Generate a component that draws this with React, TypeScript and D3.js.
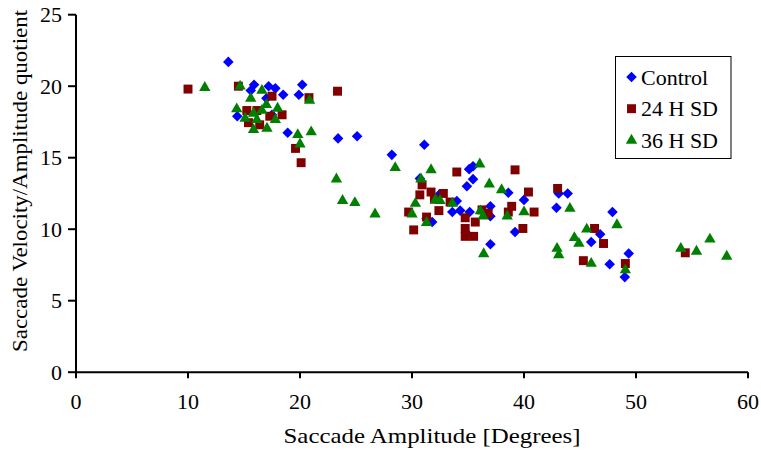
import React, { useEffect, useRef } from 'react';
import * as d3 from 'd3';

// [amplitude, velocity/amplitude] pairs
const control: [number, number][] = [
  [13.6, 21.7], [15.9, 20.1], [15.6, 19.7], [17.2, 20.0], [17.8, 19.85], [18.5, 19.4],
  [20.2, 20.1], [19.9, 19.4], [14.4, 17.9], [17.0, 19.15], [17.5, 18.0], [18.9, 16.75],
  [23.4, 16.35], [25.1, 16.5], [28.2, 15.2], [31.1, 15.9], [35.1, 14.2], [35.45, 14.4],
  [35.45, 13.5], [34.9, 13.0], [30.7, 13.55], [38.6, 12.55], [40.0, 12.05], [34.0, 11.97],
  [33.6, 11.2], [34.3, 11.3], [35.15, 11.2], [37.0, 11.6], [37.0, 10.9], [31.3, 10.75],
  [31.8, 10.5], [39.2, 9.8], [37.0, 8.95], [42.9, 11.5], [43.1, 12.5], [43.9, 12.5],
  [47.9, 11.2], [46.8, 9.65], [46.0, 9.1], [49.35, 8.3], [47.65, 7.55], [49.0, 6.65],
  [32.4, 12.4], [34.9, 9.7]
];

const sd24: [number, number][] = [
  [10.0, 19.8], [14.5, 20.0], [17.5, 19.3], [20.8, 19.2], [19.6, 15.65], [20.1, 14.65],
  [15.25, 18.3], [16.15, 18.3], [15.4, 17.45], [16.4, 17.3], [18.4, 18.0], [17.3, 17.9],
  [23.35, 19.65], [34.0, 14.0], [39.2, 14.15], [30.9, 13.1], [30.7, 12.4], [31.7, 12.6],
  [32.8, 12.5], [32.0, 12.1], [40.4, 12.6], [29.7, 11.2], [32.4, 11.3], [33.4, 11.9],
  [36.25, 11.35], [36.8, 11.1], [38.9, 11.6], [38.6, 11.2], [40.9, 11.2], [34.75, 10.8],
  [35.65, 10.5], [30.15, 9.95], [31.3, 10.85], [34.75, 10.05], [34.75, 9.5], [35.5, 9.5],
  [39.9, 10.05], [43.0, 12.85], [46.3, 10.05], [47.1, 9.0], [45.3, 7.8], [49.05, 7.6],
  [54.4, 8.35]
];

const sd36: [number, number][] = [
  [11.5, 19.9], [14.65, 20.0], [16.6, 19.7], [15.6, 19.15], [20.85, 19.0], [14.35, 18.4],
  [15.1, 17.75], [15.85, 16.95], [17.05, 17.05], [16.15, 17.65], [16.6, 18.3], [17.0, 18.7],
  [18.0, 18.45], [17.8, 17.65], [19.8, 16.6], [21.0, 16.8], [20.0, 15.95], [23.25, 13.5],
  [28.5, 14.3], [31.7, 14.15], [36.05, 14.55], [30.8, 13.5], [36.9, 13.15], [38.0, 12.75],
  [23.8, 12.0], [24.9, 11.85], [26.7, 11.05], [30.3, 11.8], [32.1, 12.05], [32.5, 12.0],
  [33.6, 11.8], [30.0, 11.05], [31.3, 10.45], [36.1, 11.27], [36.35, 10.9], [38.5, 10.9],
  [40.0, 11.2], [36.4, 8.27], [42.95, 8.65], [43.1, 8.2], [44.1, 11.45], [48.3, 10.3],
  [45.6, 10.0], [44.5, 9.4], [44.9, 9.0], [46.0, 7.6], [49.05, 7.15], [54.0, 8.65],
  [55.4, 8.45], [56.6, 9.3], [58.1, 8.1], [15.85, 18.1]
];

const seriesNames = ['Control', '24 H SD', '36 H SD'];
const xTicks = [0, 10, 20, 30, 40, 50, 60];
const yTicks = [0, 5, 10, 15, 20, 25];

const font = '"Liberation Serif", "Times New Roman", serif';

export default function App() {
  const ref = useRef<SVGSVGElement>(null);

  useEffect(() => {
    const svg = d3.select(ref.current);
    svg.selectAll('*').remove();

    const x = d3.scaleLinear().domain([0, 60]).range([76, 748]);
    const y = d3.scaleLinear().domain([0, 25]).range([372.2, 14.7]);

    const styles = [
      { data: control, color: '#0000ff', shape: d3.symbol().type(d3.symbolSquare).size(56), rot: 45 },
      { data: sd24, color: '#800000', shape: d3.symbol().type(d3.symbolSquare).size(80), rot: 0 },
      { data: sd36, color: '#008000', shape: d3.symbol().type(d3.symbolTriangle).size(56), rot: 0 }
    ];

    // axes
    const g = svg.append('g').attr('font-family', font).attr('font-size', 22);

    g.append('line').attr('x1', x(0)).attr('x2', x(0)).attr('y1', y(25)).attr('y2', y(0))
      .attr('stroke', '#000').attr('stroke-width', 2);
    g.append('line').attr('x1', x(0)).attr('x2', x(60)).attr('y1', y(0)).attr('y2', y(0))
      .attr('stroke', '#000').attr('stroke-width', 2);

    g.selectAll('.yt').data(yTicks).enter().append('line')
      .attr('x1', x(0) - 8).attr('x2', x(0)).attr('y1', d => y(d)).attr('y2', d => y(d))
      .attr('stroke', '#000').attr('stroke-width', 2);
    g.selectAll('.yl').data(yTicks).enter().append('text')
      .attr('x', 62).attr('y', d => y(d) + 7.5).attr('text-anchor', 'end')
      .text(d => d);

    g.selectAll('.xt').data(xTicks).enter().append('line')
      .attr('x1', d => x(d)).attr('x2', d => x(d)).attr('y1', y(0)).attr('y2', y(0) + 6)
      .attr('stroke', '#000').attr('stroke-width', 2);
    g.selectAll('.xl').data(xTicks).enter().append('text')
      .attr('x', d => x(d)).attr('y', 409).attr('text-anchor', 'middle')
      .text(d => d);

    g.append('text').attr('x', 432).attr('y', 443).attr('text-anchor', 'middle')
      .attr('textLength', 297).attr('lengthAdjust', 'spacingAndGlyphs')
      .text('Saccade Amplitude [Degrees]');
    g.append('text').attr('transform', 'translate(27,181) rotate(-90)').attr('text-anchor', 'middle')
      .attr('textLength', 342).attr('lengthAdjust', 'spacingAndGlyphs')
      .text('Saccade Velocity/Amplitude quotient');

    // points
    styles.forEach(s => {
      svg.append('g').selectAll('path').data(s.data).enter().append('path')
        .attr('d', s.shape())
        .attr('transform', d => 'translate(' + x(d[0]) + ',' + y(d[1]) + ') rotate(' + s.rot + ')')
        .attr('fill', s.color);
    });

    // legend
    const lg = svg.append('g').attr('font-family', font).attr('font-size', 22);
    lg.append('rect').attr('x', 615.5).attr('y', 56.5).attr('width', 115.5).attr('height', 102)
      .attr('fill', '#fff').attr('stroke', '#000').attr('stroke-width', 1);
    styles.forEach((s, i) => {
      const cy = 77 + i * 31.7;
      lg.append('path').attr('d', s.shape())
        .attr('transform', 'translate(631.5,' + cy + ') rotate(' + s.rot + ')')
        .attr('fill', s.color);
      lg.append('text').attr('x', 641).attr('y', cy + 7.5).text(seriesNames[i]);
    });
  }, []);

  return (
    <div>
      <style>{'body{margin:0}'}</style>
      <svg ref={ref} width={761} height={452} style={{ display: 'block', background: '#fff' }} />
    </div>
  );
}
